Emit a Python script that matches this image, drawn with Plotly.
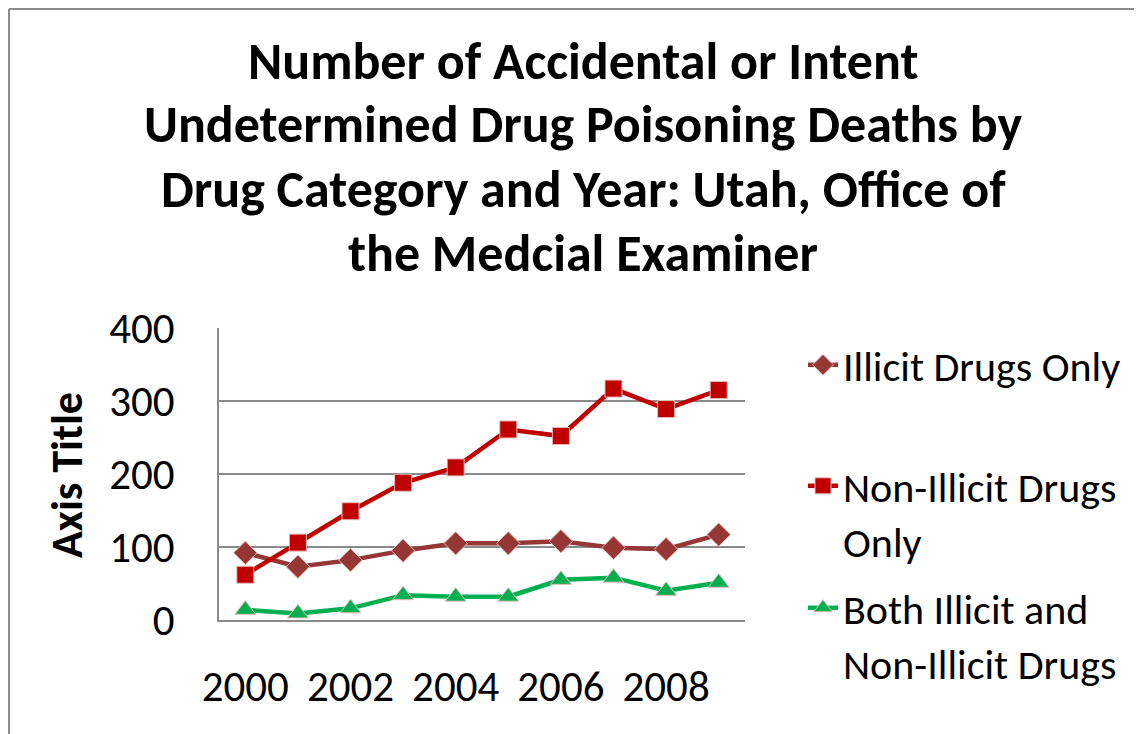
import plotly.graph_objects as go

years = [2000, 2001, 2002, 2003, 2004, 2005, 2006, 2007, 2008, 2009]
illicit_only = [92, 73, 82, 95, 105, 105, 108, 99, 97, 117]
non_illicit_only = [62, 106, 149, 188, 209, 261, 252, 317, 289, 315]
both = [14, 9, 16, 34, 32, 32, 55, 58, 40, 51]

x_ticks = [2000, 2002, 2004, 2006, 2008]
y_ticks = [0, 100, 200, 300, 400]

title_lines = [
    "Number of Accidental or Intent",
    "Undetermined Drug Poisoning Deaths by",
    "Drug Category and Year: Utah, Office of",
    "the Medcial Examiner",
]

FONT = "Calibri, Carlito, Lato, sans-serif"
GRID = "#8a8a8a"

# page body adds an 8px margin, so the figure is laid out in pixels
# shifted up-left by 8 from the reference
W, H = 1134, 726
PL, PR, PT, PB = 211, 737, 320, 612


def px(x):
    return (x - PL) / (PR - PL)


def py(y):
    return (PB - y) / (PB - PT)


series = [
    ("Illicit Drugs Only", illicit_only, "#953735", "diamond", 18, "legend", 323),
    ("Non-Illicit Drugs<br>Only", non_illicit_only, "#C00000", "square", 17, "legend2", 444),
    ("Both Illicit and<br>Non-Illicit Drugs", both, "#00B050", "triangle-up", 18, "legend3", 566),
]

fig = go.Figure()
legends = {}
for name, vals, color, symbol, size, leg, top in series:
    fig.add_trace(
        go.Scatter(
            x=years,
            y=vals,
            name=name,
            legend=leg,
            showlegend=True,
            mode="lines+markers",
            line={"color": color, "width": 4.5},
            marker={"color": color, "symbol": symbol, "size": size,
                    "line": {"color": "#e6b9b8", "width": 1}},
        )
    )
    legends[leg] = {
        "visible": True,
        "x": px(795),
        "y": py(top),
        "xanchor": "left",
        "yanchor": "top",
        "font": {"size": 42, "family": FONT, "color": "black"},
        "valign": "top",
        "bgcolor": "rgba(0,0,0,0)",
    }

annotations = [
    {
        "text": line,
        "xref": "paper", "yref": "paper",
        "x": px(575), "y": py(cy),
        "xanchor": "center", "yanchor": "middle",
        "showarrow": False,
        "font": {"size": 52, "family": FONT, "color": "black", "weight": "bold"},
    }
    for line, cy in zip(title_lines, [53, 116, 181, 245])
]
annotations.append(
    {
        "text": "Axis Title",
        "textangle": -90,
        "xref": "paper", "yref": "paper",
        "x": px(59), "y": py(467),
        "xanchor": "center", "yanchor": "middle",
        "showarrow": False,
        "font": {"size": 44, "family": FONT, "color": "black", "weight": "bold"},
    }
)

fig.update_layout(
    width=W,
    height=H,
    showlegend=True,
    margin={"l": PL, "r": W - PR, "t": PT, "b": H - PB},
    paper_bgcolor="white",
    plot_bgcolor="white",
    font={"family": FONT, "color": "black"},
    xaxis={
        "range": [1999.5, 2009.5],
        "tickvals": x_ticks,
        "showgrid": False,
        "zeroline": False,
        "showline": True,
        "linecolor": GRID,
        "linewidth": 1.5,
        "ticks": "",
        "tickfont": {"size": 43},
        "ticklabelstandoff": 28,
    },
    yaxis={
        "range": [0, 400],
        "tickvals": y_ticks,
        "showgrid": True,
        "gridcolor": GRID,
        "gridwidth": 1.5,
        "zeroline": False,
        "showline": True,
        "linecolor": GRID,
        "linewidth": 1.5,
        "ticks": "",
        "tickfont": {"size": 43},
        "ticklabelstandoff": 34,
    },
    annotations=annotations,
    shapes=[
        {"type": "line", "xref": "paper", "yref": "paper",
         "x0": px(1), "x1": px(1), "y0": py(1), "y1": py(H + 10),
         "line": {"color": "#8a8a8a", "width": 2}},
        {"type": "line", "xref": "paper", "yref": "paper",
         "x0": px(1), "x1": px(W + 10), "y0": py(1), "y1": py(1),
         "line": {"color": "#8a8a8a", "width": 2}},
    ],
    **legends,
)

fig.write_html("out.html")
